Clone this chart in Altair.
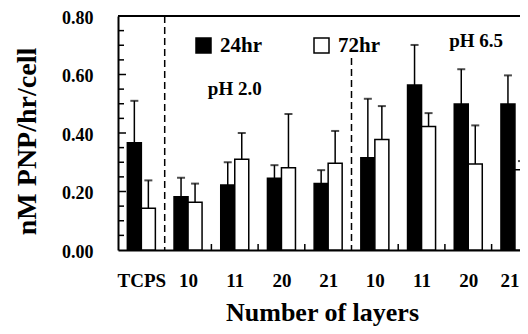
import altair as alt
import pandas as pd

# ---- data ----
cats = ["TCPS", "a10", "a11", "a20", "a21", "b10", "b11", "b20", "b21"]
cat_labels = ["TCPS", "10", "11", "20", "21", "10", "11", "20", "21"]
series = ["24hr", "72hr"]
mean24 = [0.367, 0.182, 0.222, 0.245, 0.227, 0.315, 0.564, 0.499, 0.499]
err24 = [0.143, 0.065, 0.078, 0.045, 0.046, 0.202, 0.137, 0.119, 0.098]
mean72 = [0.143, 0.163, 0.310, 0.281, 0.297, 0.378, 0.422, 0.294, 0.274]
err72 = [0.095, 0.064, 0.090, 0.184, 0.110, 0.114, 0.046, 0.132, 0.030]
sep_cats = ["a10", "b10"]
sep_tops = [0.80, 0.656]
minor_ticks = [0.05, 0.10, 0.15, 0.25, 0.30, 0.35, 0.45, 0.50, 0.55, 0.65, 0.70, 0.75]
major_ticks = [0.20, 0.40, 0.60]
bottom_tick_cats = ["a11", "a20", "a21", "b11", "b20", "b21"]
notes = ["pH 2.0", "pH 6.5"]
note_pos = [2.5, 7.67]      # in category units
note_vals = [0.53, 0.694]

FONT = "Liberation Serif"

# category slots: the visible part of the axis is 8.6 slots wide (the 9th is cut at the edge)
X_MAX = 8.608
BAR_W = 0.3  # bar width in slot units

rows = []
for i, c in enumerate(cats):
    for s, m, e in (("24hr", mean24[i], err24[i]), ("72hr", mean72[i], err72[i])):
        rows.append({"i": i, "series": s, "value": m, "upper": m + e})
df = pd.DataFrame(rows)
sep_df = pd.DataFrame({"pos": [cats.index(c) for c in sep_cats], "top": sep_tops})
minor_df = pd.DataFrame({"v": minor_ticks})
major_df = pd.DataFrame({"v": major_ticks})
btick_df = pd.DataFrame({"pos": [cats.index(c) for c in bottom_tick_cats]})
note_df = pd.DataFrame({"pos": note_pos, "v": note_vals, "t": notes})

label_expr = "[" + ",".join("'%s'" % l for l in cat_labels) + "][floor(datum.value)]"

xscale = alt.Scale(domain=[0, X_MAX], nice=False, zero=False)
yscale = alt.Scale(domain=[0, 0.8], nice=False, zero=True)

base = alt.Chart(df).transform_calculate(
    lo="datum.i + 0.5 + (datum.series == '24hr' ? -%f : 0)" % BAR_W,
    hi="datum.i + 0.5 + (datum.series == '24hr' ? 0 : %f)" % BAR_W,
    mid="datum.i + 0.5 + (datum.series == '24hr' ? -%f : %f)" % (BAR_W / 2, BAR_W / 2),
)

bars = base.mark_bar(stroke="black", strokeWidth=1.5, clip=True).encode(
    x=alt.X("lo:Q", scale=xscale, title="Number of layers",
            axis=alt.Axis(values=[i + 0.5 for i in range(len(cats))],
                          labelExpr=label_expr, labelFlush=False, labelOverlap=False,
                          labelAlign={"condition": {"test": "datum.value > 8", "value": "right"},
                                      "value": "center"},
                          labelOffset={"condition": {"test": "datum.value > 8", "value": 4},
                                       "value": 0},
                          labelAngle=0, ticks=False, grid=False, labelPadding=21,
                          labelFont=FONT, labelFontSize=19, labelFontWeight="bold",
                          labelColor="black", domainColor="black", domainWidth=2,
                          titleFont=FONT, titleFontSize=26, titleFontWeight="bold",
                          titleColor="black", titleX=204, titleY=70,
                          titleBaseline="alphabetic", titleAlign="center")),
    x2="hi:Q",
    y=alt.Y("value:Q", scale=yscale, title="nM PNP/hr/cell",
            axis=alt.Axis(values=[0, 0.2, 0.4, 0.6, 0.8], format=".2f", ticks=False,
                          grid=False, labelPadding=25, labelFlush=False, labelOffset=2,
                          labelFont=FONT, labelFontSize=18, labelFontWeight="bold",
                          labelColor="black", domainColor="black", domainWidth=2,
                          titleFont=FONT, titleFontSize=28, titleFontWeight="bold",
                          titleColor="black", titleX=-91, titleY=125,
                          titleBaseline="middle", titleAlign="center", titleAngle=-90)),
    y2=alt.datum(0),
    color=alt.Color("series:N", scale=alt.Scale(domain=series, range=["black", "white"]),
                    legend=alt.Legend(title=None, orient="none", legendX=75, legendY=19,
                                      direction="horizontal", symbolType="square",
                                      symbolSize=225, symbolStrokeColor="black",
                                      symbolStrokeWidth=1.5, symbolOpacity=1,
                                      labelFont=FONT, labelFontSize=21,
                                      labelFontWeight="bold", labelColor="black",
                                      labelOffset=6, columnPadding=49, padding=0)),
)

err_rules = base.mark_rule(color="black", strokeWidth=1.5, clip=True).encode(
    x=alt.X("mid:Q"), y=alt.Y("value:Q"), y2="upper:Q")

caps = base.mark_tick(color="black", size=8, thickness=2, orient="horizontal",
                      clip=True).encode(
    x=alt.X("mid:Q"), y=alt.Y("upper:Q"))

seps = alt.Chart(sep_df).mark_rule(color="black", strokeWidth=1.5, strokeDash=[7, 4]).encode(
    x=alt.X("pos:Q"), y=alt.Y("top:Q"), y2=alt.datum(0))

top_border = alt.Chart(sep_df).mark_rule(color="black", strokeWidth=2).encode(
    x=alt.value(0), x2=alt.value(402), y=alt.value(0))

minor = alt.Chart(minor_df).mark_rule(color="black", strokeWidth=1.5).encode(
    y=alt.Y("v:Q"), x=alt.value(0), x2=alt.value(6))
major = alt.Chart(major_df).mark_rule(color="black", strokeWidth=1.5).encode(
    y=alt.Y("v:Q"), x=alt.value(0), x2=alt.value(8))

bticks = alt.Chart(btick_df).mark_rule(color="black", strokeWidth=1.5).encode(
    x=alt.X("pos:Q"), y=alt.value(234), y2=alt.value(228))

texts = alt.Chart(note_df).mark_text(font=FONT, fontSize=19, fontWeight="bold",
                                     color="black", baseline="alphabetic").encode(
    x=alt.X("pos:Q"), y=alt.Y("v:Q"), text="t:N")

chart = alt.layer(bars, err_rules, caps, seps, top_border, minor, major, bticks,
                  texts).properties(
    width=402, height=234,
    autosize=alt.AutoSizeParams(type="none"),
    padding={"left": 110, "top": 8, "right": 0, "bottom": 76},
).configure_view(strokeWidth=0)

chart.save("out.html", embed_options={"renderer": "svg", "actions": False})
